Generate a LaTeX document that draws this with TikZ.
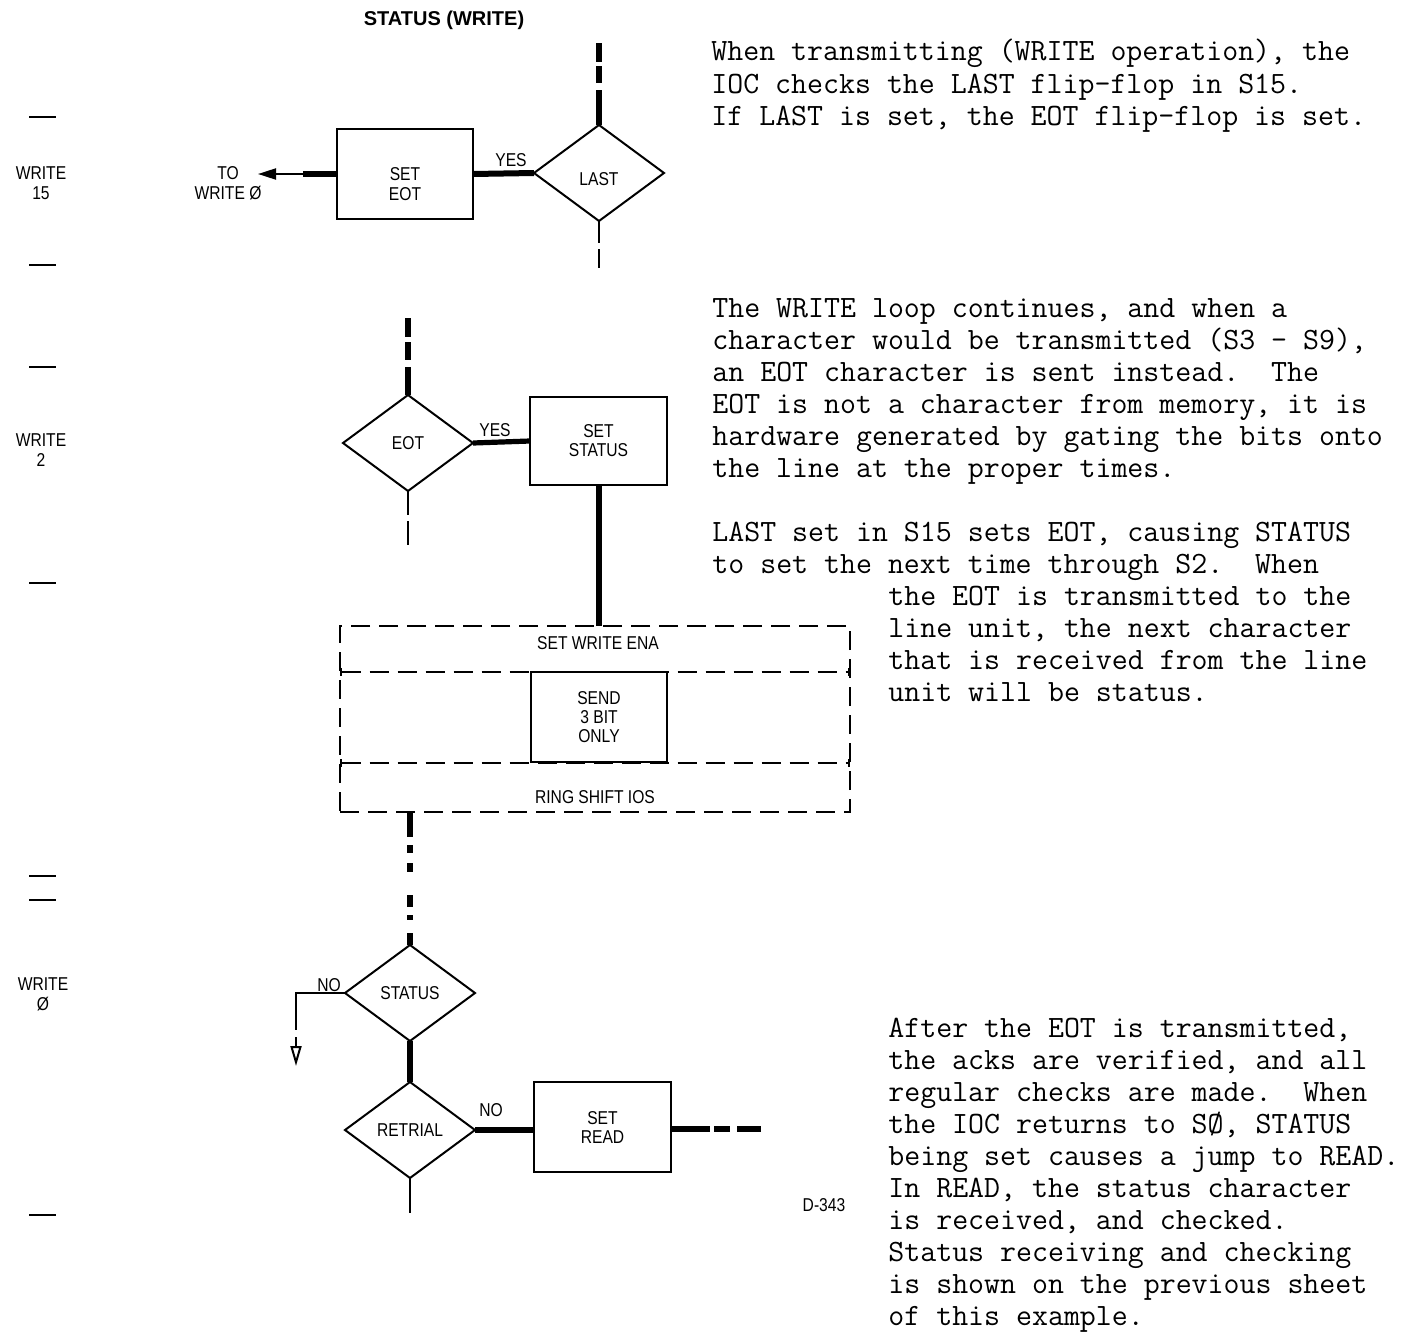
\documentclass[tikz,border=0pt]{standalone}
\usepackage{fontspec}
\setmainfont{Liberation Sans}
\newfontfamily\lblfont[FakeStretch=0.84]{Liberation Sans}
\usetikzlibrary{shapes.geometric,arrows.meta}
\frenchspacing
\begin{document}
\begin{tikzpicture}[x=0.5pt,y=-0.5pt,
  lbltxt/.style={font=\lblfont\fontsize{9.3}{10}\selectfont, align=center, inner sep=0pt},
  procbox/.style={draw, line width=1pt, rectangle, inner sep=0pt, outer sep=0pt, lbltxt, font=\lblfont\fontsize{9.3}{9.5}\selectfont},
  decbox/.style={draw, line width=1pt, diamond, inner sep=0pt, outer sep=0pt, lbltxt, minimum width=65pt, minimum height=48pt},
  flowbar/.style={line width=3pt},
  thinln/.style={line width=1pt},
  sidedash/.style={line width=1pt},
  tytxt/.style={font=\ttfamily\fontsize{15.5}{16}\selectfont, anchor=base west, inner sep=0pt},
]
\useasboundingbox (0,0) rectangle (1404,1333);

% title
\node[font=\bfseries\fontsize{10}{12}\selectfont, inner sep=0pt] (title) at (444,20) {STATUS (WRITE)};

% left margin labels and ticks
\foreach \yy [count=\k] in {117,265,367,583,876,900,1215}
  \draw[sidedash] (29,\yy) -- (56,\yy) coordinate (tick\k);
\node[lbltxt] (w15) at (41,183) {WRITE\\15};
\node[lbltxt] (w2) at (41,450) {WRITE\\2};
\node[lbltxt] (w0) at (43,994) {WRITE\\Ø};

% ---------- top section ----------
\node[decbox, label={[lbltxt, yshift=-3pt]center:LAST}] (last) at (599,173) {};
\node[procbox, minimum width=68pt, minimum height=45pt,
      label={[lbltxt, yshift=-5pt]center:{SET\\EOT}}] (seteot) at (405,174) {};
\coordinate (lastin) at (599,43);
\coordinate (lastout) at (599,268);
\coordinate (tw1) at (303,174);
\coordinate (tw2) at (258,174);
\draw[flowbar, dash pattern=on 9.5pt off 2pt on 8.5pt off 3.5pt on 30pt] (lastin) -- (last.north);
\draw[thinln, dash pattern=on 11pt off 3pt on 10pt off 3pt] (last.south) -- (lastout);
\draw[flowbar] (seteot.east) -- (last.west);
\node[lbltxt] (yes1) at (511,160) {YES};
\draw[flowbar] (seteot.west) -- (tw1);
\draw[thinln, -{Triangle[length=9pt,width=5.5pt]}] (tw1) -- (tw2);
\node[lbltxt] (towrite) at (228,183) {TO\\WRITE Ø};

% ---------- middle section ----------
\node[decbox] (eot) at (408,443) {EOT};
\node[procbox, minimum width=68.5pt, minimum height=44pt] (setstatus) at (598.5,441) {SET\\STATUS};
\coordinate (eotin) at (408,318);
\coordinate (eotout) at (408,545);
\draw[flowbar, dash pattern=on 9.5pt off 2.5pt on 9pt off 3.5pt on 30pt] (eotin) -- (eot.north);
\draw[thinln, dash pattern=on 12pt off 3pt on 12pt off 3pt] (eot.south) -- (eotout);
\draw[flowbar, line width=2.6pt] (eot.east) -- (setstatus.west);
\node[lbltxt] (yes2) at (495,430) {YES};

% dashed group box
\node[draw, line width=1pt, dash pattern=on 9.5pt off 4.5pt, rectangle, inner sep=0pt, outer sep=0pt,
      minimum width=255pt, minimum height=93pt] (wbox) at (595,719) {};
\draw[flowbar] (setstatus.south) -- (setstatus.south |- wbox.north);
\coordinate (d1l) at (340,672);
\coordinate (d1r) at (850,672);
\coordinate (d2l) at (340,763);
\coordinate (d2r) at (850,763);
\draw[line width=1pt, dash pattern=on 9.5pt off 4.5pt, {Bar[width=4pt]}-{Bar[width=4pt]}] (d1l) -- (d1r);
\draw[line width=1pt, dash pattern=on 9.5pt off 4.5pt, {Bar[width=4pt]}-{Bar[width=4pt]}] (d2l) -- (d2r);
\node[lbltxt] (swe) at (598,643) {SET WRITE ENA};
\node[lbltxt] (rsi) at (595,797) {RING SHIFT IOS};
\node[procbox, fill=white, minimum width=68pt, minimum height=45pt] (send) at (599,717) {SEND\\3 BIT\\ONLY};

% ---------- bottom section ----------
\node[decbox] (status) at (410,993) {STATUS};
\node[decbox] (retrial) at (410,1130) {RETRIAL};
\node[procbox, minimum width=68.5pt, minimum height=45pt] (setread) at (602.5,1127) {SET\\READ};
\draw[flowbar, dash pattern=on 12.5pt off 4pt on 4pt off 5pt on 4.5pt off 11.5pt on 6pt off 4pt on 2.5pt off 6.5pt on 20pt]
  (wbox.south -| status.north) -- (status.north);
\draw[flowbar] (status.south) -- (retrial.north);
\coordinate (no1) at (296,993);
\coordinate (no2) at (296,1017);
\coordinate (no3) at (296,1066);
\draw[thinln] (status.west) -- (no1) -- (no2);
\draw[thinln, dash pattern=on 6.5pt off 3.5pt on 30pt, -{Triangle[open,length=10pt,width=5.5pt]}] (no2) -- (no3);
\node[lbltxt] (nolab1) at (329,985) {NO};
\draw[flowbar] (retrial.east) -- (retrial.east -| setread.west);
\node[lbltxt] (nolab2) at (491,1110) {NO};
\coordinate (rb) at (410,1213);
\draw[thinln] (retrial.south) -- (rb);
\coordinate (srout) at (761,1129);
\draw[flowbar, dash pattern=on 19.5pt off 2pt on 8pt off 3.5pt on 20pt] (setread.east |- srout) -- (srout);
\node[lbltxt] (dnum) at (824,1205) {D-343};

% ---------- typewritten text ----------
\foreach \t [count=\i] in {
  {When transmitting (WRITE operation), the},
  {IOC checks the LAST flip-flop in S15.},
  {If LAST is set, the EOT flip-flop is set.}}
  \node[tytxt] (ta\i) at (711,{61+32*(\i-1)}) {\t};

\foreach \t [count=\i] in {
  {The WRITE loop continues, and when a},
  {character would be transmitted (S3 - S9),},
  {an EOT character is sent instead.~ The},
  {EOT is not a character from memory, it is},
  {hardware generated by gating the bits onto},
  {the line at the proper times.}}
  \node[tytxt] (tb\i) at (712,{317+32*(\i-1)}) {\t};

\node[tytxt] (tc1) at (712,541) {LAST set in S15 sets EOT, causing STATUS};
\node[tytxt] (tc2) at (712,573) {to set the next time through S2.~ When};
\foreach \t [count=\i] in {
  {the EOT is transmitted to the},
  {line unit, the next character},
  {that is received from the line},
  {unit will be status.}}
  \node[tytxt] (td\i) at (888,{605+32*(\i-1)}) {\t};

\foreach \t [count=\i] in {
  {After the EOT is transmitted,},
  {the acks are verified, and all},
  {regular checks are made.~ When},
  {the IOC returns to SØ, STATUS},
  {being set causes a jump to READ.},
  {In READ, the status character},
  {is received, and checked.},
  {Status receiving and checking},
  {is shown on the previous sheet},
  {of this example.}}
  \node[tytxt] (te\i) at (888,{1037+32*(\i-1)}) {\t};
\end{tikzpicture}
\end{document}
